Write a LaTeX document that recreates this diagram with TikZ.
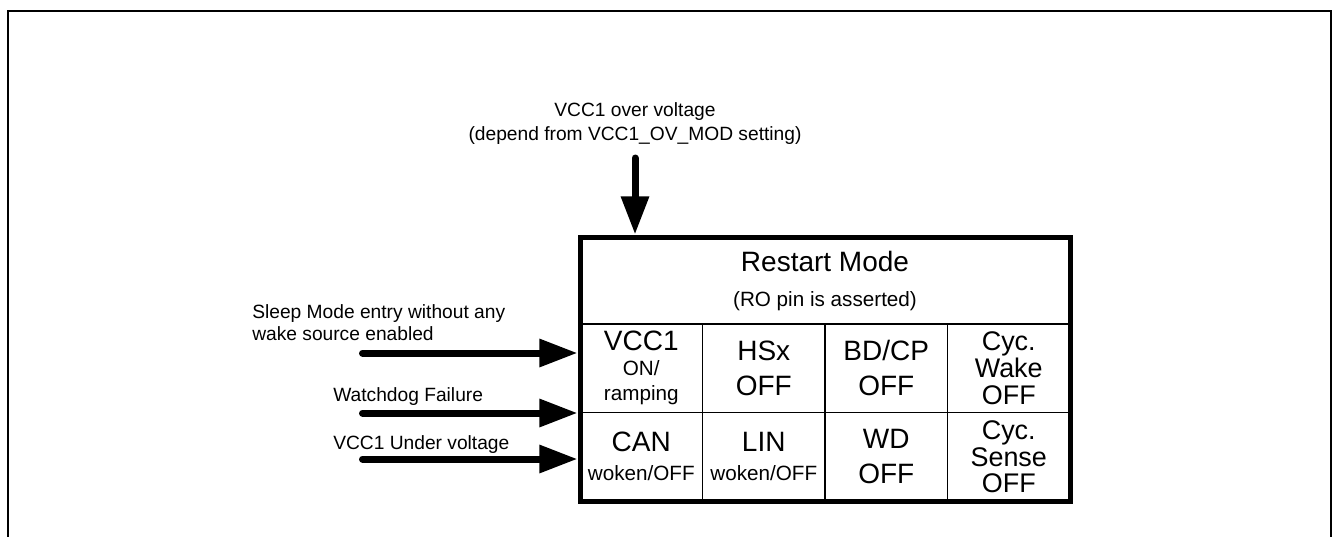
\documentclass[tikz,border=0pt]{standalone}
\usepackage{fontspec}
\setmainfont{Liberation Sans}
\usepackage{tikz}
\usetikzlibrary{arrows.meta, positioning}

\newcommand{\bigfont}{\fontsize{21}{26.25}\selectfont}
\newcommand{\midfont}{\fontsize{15.5}{18.75}\selectfont}
\newcommand{\cycfont}{\fontsize{20.2}{20.2}\selectfont}
\newcommand{\lblfont}{\fontsize{14.4}{16.5}\selectfont}

\begin{document}
\begin{tikzpicture}[
        x=0.75pt, y=-0.75pt,
        cell/.style={rectangle, draw, line width=1.2pt, minimum width=91.875pt, minimum height=66.375pt, inner sep=0pt, outer sep=0pt, align=center, font=\bigfont},
        lbl/.style={inner sep=0pt, align=left, font=\lblfont},
        bigarrow/.style={-{Triangle[length=28.5pt, width=20pt]}, line width=5.25pt, line cap=round}
    ]
    \useasboundingbox (0,0) rectangle (1333,536);

    % frame
    \draw[line width=1.1pt] (8,545) -- (8,11) -- (1331,11) -- (1331,545);

    % mode block
    \node[cell, minimum width=367.5pt, minimum height=65.25pt] (head) at (825,280.5) {{\bigfont Restart Mode}\\{\midfont (RO pin is asserted)}};
    \node[cell, font=\midfont, below right=0pt and 0pt of head.south west] (vcc) {{\bigfont VCC1}\\ON/\\ramping};
    \node[cell, right=0pt of vcc] (hsx) {HSx\\OFF};
    \node[cell, right=0pt of hsx] (bdcp) {BD/CP\\OFF};
    \node[cell, font=\cycfont, right=0pt of bdcp] (cycwake) {Cyc.\\Wake\\OFF};
    \node[cell, font=\midfont, below=0pt of vcc] (can) {{\bigfont CAN}\\[3pt]woken/OFF};
    \node[cell, font=\midfont, right=0pt of can] (lin) {{\bigfont LIN}\\[3pt]woken/OFF};
    \node[cell, right=0pt of lin] (wd) {WD\\OFF};
    \node[cell, font=\cycfont, right=0pt of wd] (cycsense) {Cyc.\\Sense\\OFF};
    \draw[line width=3.75pt] (head.north west) rectangle (cycsense.south east);

    % inputs
    \coordinate (ovsrc) at (635,158);
    \coordinate (sleepsrc) at (362.5,353);
    \coordinate (wdsrc) at (362.5,413);
    \coordinate (uvsrc) at (362.5,459);

    \draw[bigarrow, shorten >=1.9pt] (ovsrc) -- (ovsrc |- head.north);
    \draw[bigarrow, shorten >=1.9pt] (sleepsrc) -- (sleepsrc -| head.west);
    \draw[bigarrow, shorten >=1.9pt] (wdsrc) -- (wdsrc -| head.west);
    \draw[bigarrow, shorten >=1.9pt] (uvsrc) -- (uvsrc -| head.west);

    % labels
    \node[lbl, align=center, font=\fontsize{14.4}{18}\selectfont, above=10pt of ovsrc] (ovlbl) {VCC1 over voltage\\(depend from VCC1\_OV\_MOD setting)};
    \node[lbl, anchor=north west] (sleeplbl) at (252,304) {Sleep Mode entry without any\\wake source enabled};
    \node[lbl, anchor=north west] (wdlbl) at (333,387) {Watchdog Failure};
    \node[lbl, anchor=north west] (uvlbl) at (333,435) {VCC1 Under voltage};

\end{tikzpicture}
\end{document}
